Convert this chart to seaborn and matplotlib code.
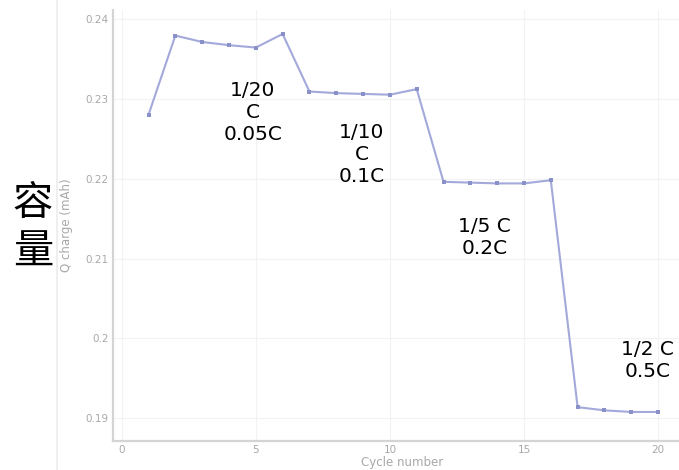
import numpy as np
import pandas as pd
import matplotlib
matplotlib.use("Agg")
import matplotlib.pyplot as plt
from matplotlib.ticker import FuncFormatter
from matplotlib.lines import Line2D
import seaborn as sns

# Charge capacity per cycle
cycles = list(range(1, 21))
q_charge = [0.2280, 0.2379, 0.2371, 0.2367, 0.2364, 0.2381,
            0.2309, 0.2307, 0.2306, 0.2305, 0.2312,
            0.2196, 0.2195, 0.2194, 0.2194, 0.2198,
            0.1914, 0.1910, 0.1908, 0.1908]

x_ticks = [0, 5, 10, 15, 20]
y_ticks = [0.19, 0.20, 0.21, 0.22, 0.23, 0.24]

rate_labels = ["1/20\nC\n0.05C", "1/10\nC\n0.1C", "1/5 C\n0.2C", "1/2 C\n0.5C"]
rate_label_x = [4.88, 8.95, 13.53, 19.6]
rate_label_y = [0.2283, 0.2230, 0.2126, 0.1972]

df = pd.DataFrame({"Cycle number": cycles, "Q charge (mAh)": q_charge})

sns.set_theme(style="whitegrid", rc={
    "grid.color": "#f2f2f4",
    "grid.linewidth": 0.8,
    "axes.edgecolor": "#d4d4d4",
    "axes.linewidth": 1.6,
})
plt.rcParams['font.family'] = ['DejaVu Sans', 'Noto Sans CJK SC']

fig = plt.figure(figsize=(6.79, 4.70), dpi=100)
ax = fig.add_axes([0.1664, 0.0623, 0.8336, 0.9164])

sns.lineplot(data=df, x="Cycle number", y="Q charge (mAh)", ax=ax,
             color="#a3a9da", linewidth=1.5, marker="s", markersize=3,
             markeredgewidth=0, markerfacecolor="#8a90c8")

ax.set_xlim(-0.325, 20.78)
ax.set_ylim(0.1872, 0.2411)
ax.set_xticks(x_ticks)
ax.set_yticks(y_ticks)
ax.yaxis.set_major_formatter(FuncFormatter(lambda v, p: f"{v:g}"))
ax.tick_params(axis="both", length=0, labelsize=7.5, labelcolor="#a8a8a8", pad=3)
for side in ["top", "right"]:
    ax.spines[side].set_visible(False)

ax.set_xlabel("Cycle number", fontsize=8.5, color="#a8a8a8")
ax.set_ylabel("Q charge (mAh)", fontsize=8.5, color="#a8a8a8")
ax.xaxis.set_label_coords(0.51, -0.036)
ax.yaxis.set_label_coords(-0.07, 0.5)

for txt, tx, ty in zip(rate_labels, rate_label_x, rate_label_y):
    ax.text(tx, ty, txt, fontsize=14.5, color="black", ha="center", va="center",
            multialignment="center", linespacing=1.2)

# big vertical caption on the left
fig.text(33 / 679, 1 - 228 / 470, "容\n量", fontsize=29, ha="center", va="center",
         family=["Noto Sans CJK SC", "DejaVu Sans"], linespacing=1.25, color="black")

# faint separator line left of the plot, as in the screenshot
fig.add_artist(Line2D([57 / 679, 57 / 679], [0, 1], color="#ececec", linewidth=1.2))

fig.savefig("out.png", dpi=100, facecolor="white")
